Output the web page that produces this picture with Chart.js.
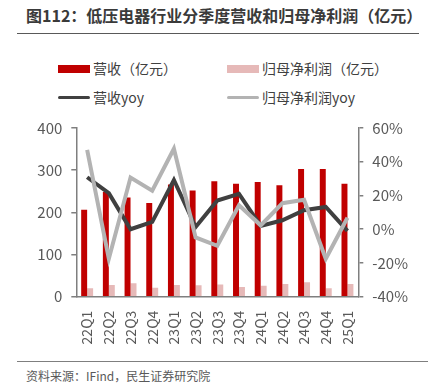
<!DOCTYPE html>
<html><head><meta charset="utf-8">
<script src="https://cdn.jsdelivr.net/npm/chart.js@4"></script>
<style>
body{margin:0;width:436px;height:387px;background:#fff;position:relative;font-family:"Noto Sans CJK SC","Noto Sans",sans-serif;overflow:hidden}
.abs{position:absolute;white-space:nowrap}
#title{left:26px;top:3px;font-size:16px;font-weight:bold;color:#3a3a3a;line-height:24px}
#tl{left:17px;top:33px;width:402px;height:0;border-top:1.5px solid #595959}
#fl{left:17px;top:361px;width:411px;height:0;border-top:1.5px solid #7f7f7f}
#src{left:26px;top:367px;font-size:12px;color:#595959;line-height:18px}
.lg{font-size:14px;color:#404040;line-height:18px}
.box{position:absolute;width:32px;height:8px}
.ln{position:absolute;width:32px;height:3.5px;border-radius:2px}
#cv{position:absolute;left:0;top:110px}
</style></head><body>
<div id="title" class="abs">图112：低压电器行业分季度营收和归母净利润（亿元）</div>
<div id="tl" class="abs"></div>
<div class="box" style="left:58px;top:65px;background:#c00000"></div>
<div class="abs lg" style="left:93px;top:59px">营收（亿元）</div>
<div class="box" style="left:227px;top:65px;background:#e6b9b8"></div>
<div class="abs lg" style="left:262px;top:59px">归母净利润（亿元）</div>
<div class="ln" style="left:58px;top:95.5px;background:#404040"></div>
<div class="abs lg" style="left:93px;top:88px">营收yoy</div>
<div class="ln" style="left:227px;top:95.5px;background:#b3b3b3"></div>
<div class="abs lg" style="left:262px;top:88px">归母净利润yoy</div>
<canvas id="cv" width="436" height="250"></canvas>
<div id="fl" class="abs"></div>
<div id="src" class="abs">资料来源：IFind，民生证券研究院</div>
<script>
const categories=["22Q1","22Q2","22Q3","22Q4","23Q1","23Q2","23Q3","23Q4","24Q1","24Q2","24Q3","24Q4","25Q1"];
const revenue=[206,248,235,222,266,252,274,268,272,264,303,303,268];
const netProfit=[20,28,32,21,28,27,29,23,26,30,34,20,30];
const revenueYoy=[30.8,21.4,0.0,4.3,29.2,1.3,17.0,21.0,2.0,5.3,11.3,13.2,-1.0];
const profitYoy=[47.0,-17.5,30.6,22.8,47.7,-4.9,-9.8,14.2,2.3,15.4,17.5,-17.5,6.8];
const leftTicks=[0,100,200,300,400];
const rightTicks=[-40,-20,0,20,40,60];

const tickColor='#595959', axisColor='#7f7f7f';
new Chart(document.getElementById('cv'),{
  data:{labels:categories,datasets:[
    {type:'line',label:'营收yoy',data:revenueYoy,yAxisID:'y1',borderColor:'#404040',borderWidth:4,pointRadius:0,tension:0,order:1},
    {type:'line',label:'归母净利润yoy',data:profitYoy,yAxisID:'y1',borderColor:'#b3b3b3',borderWidth:4,pointRadius:0,tension:0,order:0},
    {type:'bar',label:'营收（亿元）',data:revenue,yAxisID:'y',backgroundColor:'#c00000',barPercentage:1,categoryPercentage:0.55,order:2},
    {type:'bar',label:'归母净利润（亿元）',data:netProfit,yAxisID:'y',backgroundColor:'#e6b9b8',barPercentage:1,categoryPercentage:0.55,order:3}
  ]},
  options:{
    responsive:false,animation:false,devicePixelRatio:1,
    layout:{padding:{top:16,left:0,right:0,bottom:0}},
    plugins:{legend:{display:false},tooltip:{enabled:false}},
    scales:{
      x:{grid:{display:false},border:{display:true,color:axisColor,width:1.5},
         ticks:{color:tickColor,font:{size:14,family:'"Noto Sans CJK SC"'},maxRotation:90,minRotation:90,autoSkip:false,padding:6},
         afterFit(s){s.height=63.3;}},
      y:{position:'left',min:0,max:400,afterBuildTicks(s){s.ticks=leftTicks.map(v=>({value:v}));},
         grid:{drawOnChartArea:false,drawTicks:true,tickLength:5,color:axisColor,lineWidth:1.5},border:{display:true,color:axisColor,width:1.5},
         ticks:{color:tickColor,font:{size:15,family:'"Noto Sans CJK SC"'},padding:9},
         afterFit(s){s.width=76.3;}},
      y1:{position:'right',min:-40,max:60,afterBuildTicks(s){s.ticks=rightTicks.map(v=>({value:v}));},
         grid:{drawOnChartArea:false,drawTicks:true,tickLength:5,color:axisColor,lineWidth:1.5},border:{display:true,color:axisColor,width:1.5},
         ticks:{color:tickColor,font:{size:15,family:'"Noto Sans CJK SC"'},padding:9,callback:v=>v+'%'},
         afterFit(s){s.width=77.7;}}
    }
  }
});
</script>
</body></html>
